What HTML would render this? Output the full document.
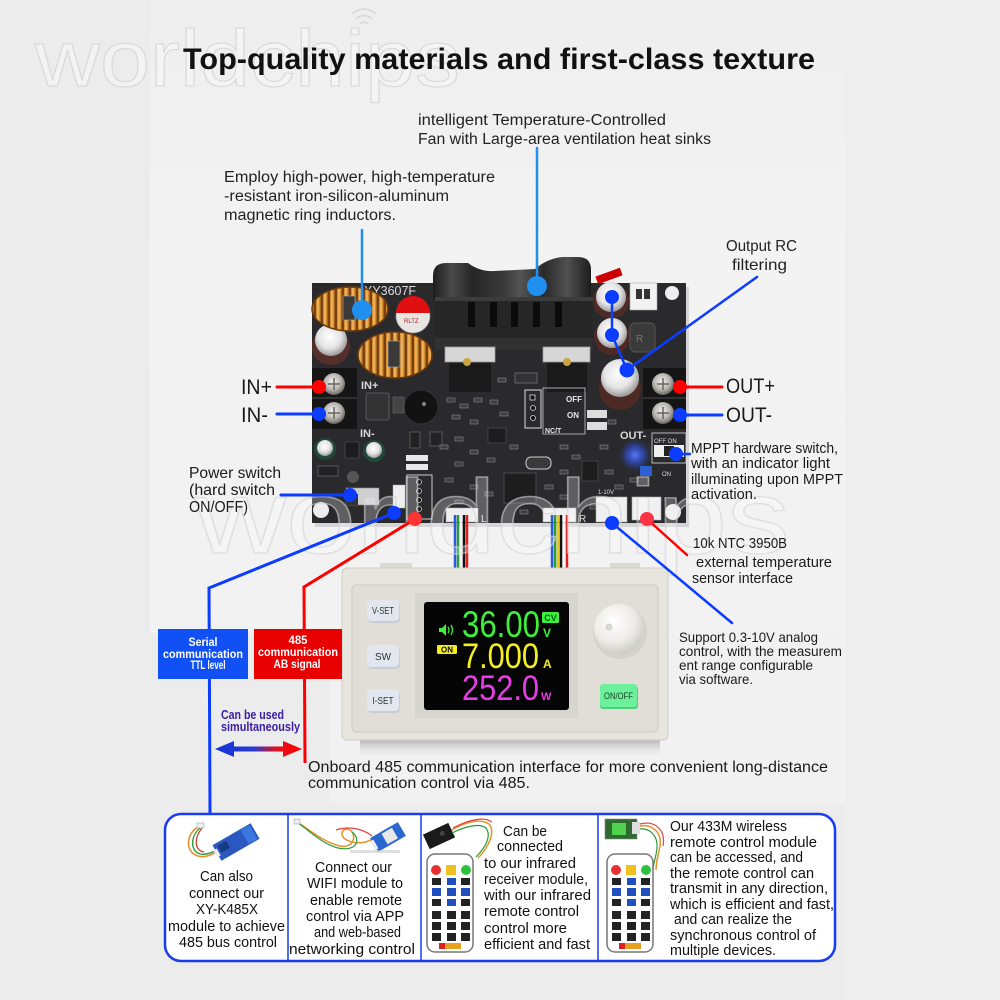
<!DOCTYPE html>
<html><head><meta charset="utf-8">
<style>
html,body{margin:0;padding:0;background:#ececec;}
svg{display:block}
text{font-family:"Liberation Sans",sans-serif}
</style></head><body>
<svg width="1000" height="1000" viewBox="0 0 1000 1000" xmlns="http://www.w3.org/2000/svg">
<defs>
 <linearGradient id="bgc" x1="0" y1="0" x2="0" y2="1">
  <stop offset="0" stop-color="#eeeeee"/><stop offset="0.4" stop-color="#f3f3f3"/><stop offset="1" stop-color="#f2f2f2"/>
 </linearGradient>
 <pattern id="coil" width="7" height="10" patternUnits="userSpaceOnUse">
  <rect width="7" height="10" fill="#7a400e"/>
  <rect x="1" width="4.5" height="10" fill="#d48d30"/>
  <rect x="2.3" width="1.4" height="10" fill="#f3c06a"/>
 </pattern>
 <radialGradient id="silver" cx="0.45" cy="0.4" r="0.6">
  <stop offset="0" stop-color="#ffffff"/><stop offset="0.6" stop-color="#e4e4e4"/><stop offset="1" stop-color="#9a9a9a"/>
 </radialGradient>
 <radialGradient id="screw" cx="0.45" cy="0.4" r="0.6">
  <stop offset="0" stop-color="#f2f2f2"/><stop offset="0.6" stop-color="#b9b6b0"/><stop offset="1" stop-color="#6a6660"/>
 </radialGradient>
 <linearGradient id="fanG" x1="0" y1="0" x2="1" y2="0">
  <stop offset="0" stop-color="#1c1c1c"/><stop offset="0.12" stop-color="#4a4a4a"/><stop offset="0.25" stop-color="#262626"/>
  <stop offset="0.45" stop-color="#3a3a3a"/><stop offset="0.55" stop-color="#555"/><stop offset="0.7" stop-color="#2a2a2a"/>
  <stop offset="0.85" stop-color="#505050"/><stop offset="1" stop-color="#1c1c1c"/>
 </linearGradient>
 <radialGradient id="glow" cx="0.5" cy="0.5" r="0.5">
  <stop offset="0" stop-color="#5a7dff" stop-opacity="0.95"/><stop offset="0.5" stop-color="#3050e0" stop-opacity="0.6"/><stop offset="1" stop-color="#2a2a2c" stop-opacity="0"/>
 </radialGradient>
 <radialGradient id="knob" cx="0.4" cy="0.35" r="0.7">
  <stop offset="0" stop-color="#ffffff"/><stop offset="0.6" stop-color="#ecebe6"/><stop offset="1" stop-color="#c9c7c0"/>
 </radialGradient>
 <linearGradient id="shadow" x1="0" y1="0" x2="0" y2="1">
  <stop offset="0" stop-color="#7a7a7a" stop-opacity="0.6"/><stop offset="1" stop-color="#cfcfcf" stop-opacity="0"/>
 </linearGradient>
 <linearGradient id="arrowG" x1="0" y1="0" x2="1" y2="0">
  <stop offset="0" stop-color="#1435d8"/><stop offset="0.45" stop-color="#2a3ad0"/><stop offset="0.7" stop-color="#e01020"/><stop offset="1" stop-color="#f00"/>
 </linearGradient>
</defs>

<!-- background -->
<rect width="1000" height="1000" fill="#ececec"/>
<rect x="150" y="0" width="695" height="633" fill="url(#bgc)"/>
<rect x="330" y="633" width="515" height="170" fill="#f1f1f1"/>
<rect x="845" y="0" width="155" height="1000" fill="#eeeeee"/>

<!-- top watermark -->
<g opacity="0.75">
 <text x="35" y="86" font-size="80" textLength="425" lengthAdjust="spacingAndGlyphs" fill="#f6f6f6" stroke="#d4d4d4" stroke-width="1.2">worldchips</text>
 <path d="M352,14 Q364,4 376,14 M356,19 Q364,12 372,19 M360,24 Q364,20 368,24" fill="none" stroke="#d4d4d4" stroke-width="2"/>
</g>

<!-- title -->
<text x="183" y="69" font-size="30" font-weight="bold" fill="#111" textLength="632" lengthAdjust="spacingAndGlyphs">Top-quality materials and first-class texture</text>

<!-- top annotations -->
<g fill="#222" font-size="15.5">
 <text x="418" y="125" textLength="248" lengthAdjust="spacingAndGlyphs">intelligent Temperature-Controlled</text>
 <text x="418" y="144" textLength="293" lengthAdjust="spacingAndGlyphs">Fan with Large-area ventilation heat sinks</text>
 <text x="224" y="182" textLength="271" lengthAdjust="spacingAndGlyphs">Employ high-power, high-temperature</text>
 <text x="224" y="201" textLength="225" lengthAdjust="spacingAndGlyphs">-resistant iron-silicon-aluminum</text>
 <text x="224" y="220" textLength="172" lengthAdjust="spacingAndGlyphs">magnetic ring inductors.</text>
 <text x="726" y="251" font-size="16" textLength="71" lengthAdjust="spacingAndGlyphs">Output RC</text>
 <text x="732" y="270" font-size="16" textLength="55" lengthAdjust="spacingAndGlyphs">filtering</text>
</g>

<!-- ============ PCB ============ -->
<rect x="315" y="287" width="374" height="240" fill="#000" opacity="0.12"/>
<rect x="312" y="283" width="374" height="240" fill="#2a2a2d"/>
<text x="364" y="295" font-size="13" fill="#dcdcdc" textLength="52" lengthAdjust="spacingAndGlyphs">XY3607F</text>

<!-- fan -->
<path d="M433,300 L433,276 Q433,263 446,263 L468,263 Q480,272 495,271 L535,269 Q548,258 563,257 L578,257 Q591,257 591,270 L591,300 Z" fill="url(#fanG)"/>
<rect x="435" y="297" width="158" height="53" fill="#262627"/>
<rect x="435" y="297" width="158" height="4" fill="#3c3c3c"/>
<g fill="#0b0b0b">
 <rect x="468" y="302" width="7" height="25"/><rect x="490" y="302" width="7" height="25"/>
 <rect x="511" y="302" width="7" height="25"/><rect x="533" y="302" width="7" height="25"/>
 <rect x="555" y="302" width="7" height="25"/>
</g>
<rect x="435" y="338" width="158" height="12" fill="#313132"/>
<rect x="449" y="360" width="42" height="32" fill="#1a1a1a"/>
<rect x="547" y="360" width="40" height="32" fill="#1a1a1a"/>
<rect x="445" y="347" width="50" height="15" fill="#d6d6d6" stroke="#999" stroke-width="0.8"/>
<rect x="543" y="347" width="47" height="15" fill="#d6d6d6" stroke="#999" stroke-width="0.8"/>
<circle cx="467" cy="362" r="4" fill="#c9a640"/>
<circle cx="567" cy="362" r="4" fill="#c9a640"/>

<!-- brown cap left -->
<ellipse cx="331" cy="347" rx="19" ry="18" fill="#55302a"/>
<circle cx="331" cy="340" r="16" fill="url(#silver)"/>
<!-- red cap -->
<circle cx="413" cy="316" r="17" fill="#e8e6e3" stroke="#9a9a9a" stroke-width="0.8"/>
<path d="M396,313 A17,17 0 0 1 430,313 Z" fill="#e01010"/>
<text x="404" y="323" font-size="6" fill="#b02020">RLTZ</text>

<!-- inductors -->
<ellipse cx="350" cy="309" rx="38" ry="22" fill="url(#coil)"/>
<ellipse cx="350" cy="309" rx="38" ry="22" fill="none" stroke="#6b3a0c" stroke-width="1.5"/>
<rect x="343" y="296" width="12" height="24" fill="#3a3a3a" stroke="#aaa" stroke-width="0.6"/>
<ellipse cx="395" cy="355" rx="37" ry="23" fill="url(#coil)"/>
<ellipse cx="395" cy="355" rx="37" ry="23" fill="none" stroke="#6b3a0c" stroke-width="1.5"/>
<rect x="388" y="341" width="12" height="26" fill="#3a3a3a" stroke="#aaa" stroke-width="0.6"/>

<!-- right caps -->
<rect x="596" y="272" width="26" height="8" fill="#c00" transform="rotate(-20 609 276)"/>
<rect x="630" y="283" width="27" height="27" fill="#f2f2f2" stroke="#aaa" stroke-width="0.6"/>
<rect x="636" y="289" width="6" height="10" fill="#333"/><rect x="644" y="289" width="6" height="10" fill="#333"/>
<ellipse cx="611" cy="301" rx="18" ry="18" fill="#4e2a24"/>
<circle cx="611" cy="297" r="15" fill="url(#silver)"/>
<ellipse cx="612" cy="337" rx="18" ry="18" fill="#4e2a24"/>
<circle cx="612" cy="333" r="15" fill="url(#silver)"/>
<rect x="630" y="323" width="25" height="29" rx="5" fill="#3a3a3b" stroke="#555"/>
<text x="636" y="342" font-size="10" fill="#777">R</text>
<ellipse cx="620" cy="388" rx="21" ry="22" fill="#4e2a24"/>
<circle cx="620" cy="378" r="19" fill="url(#silver)"/>
<circle cx="672" cy="293" r="7" fill="#eeeeee"/>

<!-- terminals -->
<g>
 <rect x="312" y="368" width="45" height="30" fill="#151515"/>
 <rect x="312" y="398" width="45" height="31" fill="#151515"/>
 <line x1="312" y1="398" x2="357" y2="398" stroke="#3a3a3a" stroke-width="1.5"/>
 <circle cx="334" cy="384" r="11" fill="url(#screw)"/>
 <circle cx="334" cy="413" r="11" fill="url(#screw)"/>
 <rect x="643" y="368" width="43" height="30" fill="#151515"/>
 <rect x="643" y="398" width="43" height="31" fill="#151515"/>
 <line x1="643" y1="398" x2="686" y2="398" stroke="#3a3a3a" stroke-width="1.5"/>
 <circle cx="663" cy="384" r="11" fill="url(#screw)"/>
 <circle cx="663" cy="413" r="11" fill="url(#screw)"/>
 <path d="M328,384 h12 M334,378 v12 M328,413 h12 M334,407 v12 M657,384 h12 M663,378 v12 M657,413 h12 M663,407 v12" stroke="#6a665f" stroke-width="1.5"/>
</g>
<g fill="#d8d8d8" font-size="11" font-weight="bold">
 <text x="361" y="389">IN+</text>
 <text x="360" y="437">IN-</text>
 <text x="620" y="439">OUT-</text>
</g>

<!-- board components -->
<circle cx="421" cy="407" r="17" fill="#121212" stroke="#333"/>
<circle cx="424" cy="404" r="2" fill="#888"/>
<rect x="366" y="393" width="23" height="27" rx="2" fill="#333" stroke="#666" stroke-width="0.8"/>
<rect x="393" y="397" width="11" height="16" fill="#444" stroke="#666" stroke-width="0.6"/>
<circle cx="325" cy="449" r="11" fill="#1f4a3a"/><circle cx="325" cy="448" r="8" fill="url(#silver)"/>
<circle cx="374" cy="451" r="11" fill="#1f4a3a"/><circle cx="374" cy="450" r="8" fill="url(#silver)"/>
<rect x="345" y="442" width="14" height="16" fill="#1c1c1c" stroke="#555" stroke-width="0.6"/>
<rect x="318" y="466" width="20" height="10" fill="#222" stroke="#777" stroke-width="0.6"/>
<circle cx="353" cy="477" r="6" fill="#555"/>
<rect x="346" y="488" width="33" height="17" fill="#cfcfcf" stroke="#888" stroke-width="0.6"/>
<rect x="346" y="494" width="12" height="11" fill="#333"/>
<rect x="393" y="485" width="12" height="23" fill="#eee" stroke="#aaa" stroke-width="0.5"/>
<rect x="407" y="475" width="25" height="44" fill="none" stroke="#ccc" stroke-width="1"/>
<g fill="#111" stroke="#ccc" stroke-width="0.8">
 <circle cx="419" cy="482" r="2.5"/><circle cx="419" cy="491" r="2.5"/><circle cx="419" cy="500" r="2.5"/><circle cx="419" cy="509" r="2.5"/>
</g>
<rect x="406" y="455" width="22" height="6" fill="#e8e8e8"/><rect x="406" y="464" width="22" height="6" fill="#e8e8e8"/>
<rect x="410" y="432" width="10" height="16" fill="#222" stroke="#777" stroke-width="0.6"/>
<rect x="430" y="432" width="12" height="14" fill="#222" stroke="#777" stroke-width="0.6"/>
<rect x="504" y="473" width="32" height="30" fill="#1d1d1d" stroke="#555" stroke-width="0.8"/>
<rect x="526" y="457" width="25" height="12" rx="5" fill="#3a3a3a" stroke="#ccc" stroke-width="1"/>
<rect x="488" y="428" width="18" height="15" fill="#1d1d1d" stroke="#555" stroke-width="0.6"/>
<rect x="582" y="461" width="16" height="20" fill="#1d1d1d" stroke="#555" stroke-width="0.6"/>
<rect x="525" y="390" width="16" height="38" fill="none" stroke="#ddd" stroke-width="1"/>
<g fill="#111" stroke="#ddd" stroke-width="0.8"><rect x="530" y="395" width="5" height="5"/><circle cx="533" cy="408" r="2.5"/><circle cx="533" cy="418" r="2.5"/></g>
<rect x="543" y="388" width="42" height="46" fill="none" stroke="#ccc" stroke-width="0.8"/>
<g fill="#e6e6e6" font-size="8" font-weight="bold">
 <text x="566" y="402">OFF</text><text x="567" y="418">ON</text><text x="545" y="433" font-size="7">NC/T</text>
</g>
<rect x="587" y="410" width="20" height="8" fill="#ddd"/><rect x="587" y="422" width="20" height="8" fill="#ddd"/>
<rect x="515" y="373" width="22" height="10" fill="#333" stroke="#888" stroke-width="0.6"/>
<circle cx="635" cy="455" r="18" fill="url(#glow)"/>
<rect x="652" y="433" width="34" height="30" fill="none" stroke="#ddd" stroke-width="0.8"/>
<rect x="654" y="445" width="30" height="12" fill="#eee"/>
<rect x="664" y="446" width="10" height="10" fill="#222"/>
<text x="654" y="443" font-size="6" fill="#ddd">OFF ON</text>
<rect x="640" y="466" width="12" height="10" fill="#2b60d0"/>
<text x="662" y="476" font-size="6" fill="#ddd">ON</text>
<g fill="#3e3e40" stroke="#9a9a9a" stroke-width="0.5">
 <rect x="447" y="398" width="8" height="4"/><rect x="460" y="404" width="8" height="4"/><rect x="474" y="398" width="8" height="4"/>
 <rect x="452" y="415" width="8" height="4"/><rect x="470" y="420" width="8" height="4"/><rect x="490" y="400" width="8" height="4"/>
 <rect x="500" y="412" width="8" height="4"/><rect x="455" y="437" width="8" height="4"/><rect x="470" y="450" width="8" height="4"/>
 <rect x="487" y="458" width="8" height="4"/><rect x="455" y="462" width="8" height="4"/><rect x="445" y="478" width="8" height="4"/>
 <rect x="470" y="485" width="8" height="4"/><rect x="485" y="492" width="8" height="4"/><rect x="560" y="445" width="8" height="4"/>
 <rect x="572" y="455" width="8" height="4"/><rect x="560" y="470" width="8" height="4"/><rect x="545" y="485" width="8" height="4"/>
 <rect x="560" y="495" width="8" height="4"/><rect x="605" y="470" width="8" height="4"/><rect x="615" y="485" width="8" height="4"/>
 <rect x="600" y="445" width="8" height="4"/><rect x="440" y="445" width="8" height="4"/><rect x="510" y="445" width="8" height="4"/>
 <rect x="498" y="378" width="8" height="4"/><rect x="608" y="420" width="8" height="4"/><rect x="630" y="478" width="8" height="4"/>
 <rect x="455" y="500" width="8" height="4"/><rect x="520" y="510" width="8" height="4"/><rect x="590" y="505" width="6" height="4"/>
</g>
<!-- bottom connectors -->
<rect x="446" y="508" width="32" height="14" fill="#efefef" stroke="#aaa" stroke-width="0.6"/>
<rect x="543" y="508" width="33" height="14" fill="#efefef" stroke="#aaa" stroke-width="0.6"/>
<text x="481" y="522" font-size="10" fill="#ddd">L</text>
<text x="579" y="522" font-size="10" fill="#ddd">R</text>
<rect x="596" y="497" width="31" height="25" fill="#f0f0f0" stroke="#aaa" stroke-width="0.6"/>
<rect x="632" y="497" width="29" height="23" fill="#f0f0f0" stroke="#aaa" stroke-width="0.6"/>
<text x="598" y="494" font-size="6" fill="#ddd">1-10V</text>
<circle cx="321" cy="510" r="8" fill="#ededed"/>
<circle cx="673" cy="512" r="8" fill="#ededed"/>

<!-- ribbon wires -->
<g stroke-width="2.5">
 <line x1="455" y1="515" x2="455" y2="570" stroke="#2a5ae0"/>
 <line x1="458" y1="515" x2="458" y2="570" stroke="#2a9a3a"/>
 <line x1="461" y1="515" x2="461" y2="570" stroke="#f4f4f4"/>
 <line x1="464" y1="515" x2="464" y2="570" stroke="#111"/>
 <line x1="467" y1="515" x2="467" y2="570" stroke="#e02020"/>
 <line x1="552" y1="515" x2="552" y2="570" stroke="#2a5ae0"/>
 <line x1="555" y1="515" x2="555" y2="570" stroke="#2a9a3a"/>
 <line x1="558" y1="515" x2="558" y2="570" stroke="#e8c820"/>
 <line x1="561" y1="515" x2="561" y2="570" stroke="#111"/>
 <line x1="564" y1="515" x2="564" y2="570" stroke="#f4f4f4"/>
 <line x1="567" y1="515" x2="567" y2="570" stroke="#e02020"/>
</g>

<!-- middle watermark -->
<text x="195" y="553" font-size="105" textLength="595" lengthAdjust="spacingAndGlyphs" fill="#ffffff" fill-opacity="0.25" stroke="#d4d4d4" stroke-opacity="0.6" stroke-width="1.4">worldchips</text>

<!-- ============ display ============ -->
<rect x="360" y="738" width="300" height="18" fill="url(#shadow)"/>
<rect x="380" y="563" width="32" height="7" fill="#dcdad2"/>
<rect x="610" y="563" width="30" height="7" fill="#dcdad2"/>
<rect x="342" y="568" width="326" height="172" rx="5" fill="#e7e5de" stroke="#cfcdc5" stroke-width="1"/>
<rect x="352" y="585" width="306" height="147" rx="4" fill="#e0ded6" stroke="#cbc9c1" stroke-width="1"/>
<path d="M415,593 L578,593 L578,718 L415,718 Z" fill="#d7d5cd"/>
<rect x="424" y="602" width="145" height="108" rx="3" fill="#050505"/>
<!-- buttons -->
<g>
 <rect x="368" y="602" width="32" height="21" rx="4" fill="#c8ccd4"/>
 <rect x="367" y="600" width="32" height="21" rx="4" fill="#e2e6ee"/>
 <rect x="368" y="647" width="32" height="22" rx="4" fill="#c8ccd4"/>
 <rect x="367" y="645" width="32" height="22" rx="4" fill="#e2e6ee"/>
 <rect x="368" y="691" width="32" height="22" rx="4" fill="#c8ccd4"/>
 <rect x="367" y="689" width="32" height="22" rx="4" fill="#e2e6ee"/>
 <g font-size="10" fill="#333" text-anchor="middle">
  <text x="383" y="614" textLength="22" lengthAdjust="spacingAndGlyphs">V-SET</text>
  <text x="383" y="660">SW</text>
  <text x="383" y="704" textLength="21" lengthAdjust="spacingAndGlyphs">I-SET</text>
 </g>
</g>
<circle cx="620" cy="632" r="27" fill="#d4d2ca"/>
<circle cx="619" cy="629" r="25" fill="url(#knob)"/>
<circle cx="609" cy="627" r="3" fill="#dddbd4" stroke="#c2c0b8" stroke-width="0.6"/>
<rect x="600" y="686" width="38" height="23" rx="3" fill="#4cd07a"/>
<rect x="600" y="684" width="37" height="23" rx="3" fill="#6cf09a"/>
<text x="618.5" y="699" font-size="9" fill="#1a3a22" text-anchor="middle" textLength="29" lengthAdjust="spacingAndGlyphs">ON/OFF</text>
<!-- lcd -->
<g font-family="'DejaVu Sans Mono','Liberation Mono',monospace">
 <text x="462" y="637" font-size="37" fill="#3cf03c" textLength="78" lengthAdjust="spacingAndGlyphs">36.00</text>
 <text x="462" y="668" font-size="35" fill="#f4f020" textLength="77" lengthAdjust="spacingAndGlyphs">7.000</text>
 <text x="462" y="700" font-size="35" fill="#e83ce8" textLength="77" lengthAdjust="spacingAndGlyphs">252.0</text>
</g>
<rect x="542" y="612" width="17" height="11" rx="1.5" fill="#3cf03c"/>
<text x="550.5" y="621" font-size="9" font-weight="bold" fill="#061" text-anchor="middle">CV</text>
<text x="543" y="637" font-size="12" font-weight="bold" fill="#3cf03c">V</text>
<text x="543" y="668" font-size="12" font-weight="bold" fill="#f4f020">A</text>
<text x="541" y="700" font-size="11" font-weight="bold" fill="#e83ce8">W</text>
<path d="M439,628 h3 l4,-4 v12 l-4,-4 h-3 Z" fill="#3cf03c"/>
<path d="M448,627 q2,3 0,6 M451,625 q3,5 0,10" stroke="#3cf03c" stroke-width="1.3" fill="none"/>
<rect x="437" y="645" width="20" height="9" rx="1.5" fill="#f4f020"/>
<text x="447" y="652.5" font-size="8" font-weight="bold" fill="#111" text-anchor="middle">ON</text>

<!-- ============ connectors/leader lines ============ -->
<g stroke-linecap="round">
 <line x1="537" y1="148" x2="537" y2="286" stroke="#1f8ff0" stroke-width="2.5"/>
 <circle cx="537" cy="286" r="10" fill="#1f8ff0"/>
 <line x1="362" y1="230" x2="362" y2="310" stroke="#1f8ff0" stroke-width="2.5"/>
 <circle cx="362" cy="310" r="10" fill="#1f8ff0"/>
 <polyline points="612,297 612,335 627,370" fill="none" stroke="#0b3cff" stroke-width="2.5"/>
 <line x1="757" y1="277" x2="627" y2="370" stroke="#0b3cff" stroke-width="2.5"/>
 <circle cx="612" cy="297" r="7" fill="#0b3cff"/>
 <circle cx="612" cy="335" r="7" fill="#0b3cff"/>
 <circle cx="627" cy="370" r="7.5" fill="#0b3cff"/>
 <line x1="277" y1="387" x2="319" y2="387" stroke="#f00" stroke-width="3"/>
 <circle cx="319" cy="387" r="7" fill="#f00"/>
 <line x1="277" y1="414" x2="319" y2="414" stroke="#0b3cff" stroke-width="3"/>
 <circle cx="319" cy="414" r="7" fill="#0b3cff"/>
 <line x1="680" y1="387" x2="722" y2="387" stroke="#f00" stroke-width="3"/>
 <circle cx="680" cy="387" r="7" fill="#f00"/>
 <line x1="680" y1="415" x2="722" y2="415" stroke="#0b3cff" stroke-width="3"/>
 <circle cx="680" cy="415" r="7" fill="#0b3cff"/>
 <line x1="676" y1="454" x2="690" y2="454" stroke="#0b3cff" stroke-width="2.5"/>
 <circle cx="676" cy="454" r="7" fill="#0b3cff"/>
 <line x1="281" y1="495" x2="350" y2="495" stroke="#0b3cff" stroke-width="3"/>
 <circle cx="350" cy="495" r="7" fill="#0b3cff"/>
 <polyline points="394,513 209,588 210,813" fill="none" stroke="#0b3cff" stroke-width="3" stroke-linejoin="miter" stroke-linecap="butt"/>
 <circle cx="394" cy="513" r="7" fill="#0b3cff"/>
 <polyline points="415,519 304,587 305,763" fill="none" stroke="#f00" stroke-width="3" stroke-linecap="butt"/>
 <circle cx="415" cy="519" r="7" fill="#f33"/>
 <line x1="647" y1="519" x2="687" y2="555" stroke="#f00" stroke-width="2.5"/>
 <circle cx="647" cy="519" r="7" fill="#f34"/>
 <line x1="612" y1="523" x2="732" y2="623" stroke="#0b3cff" stroke-width="2.5"/>
 <circle cx="612" cy="523" r="7" fill="#0b3cff"/>
</g>

<!-- side labels -->
<g fill="#1a1a1a">
 <text x="241" y="394" font-size="21" textLength="31" lengthAdjust="spacingAndGlyphs">IN+</text>
 <text x="241" y="422" font-size="21" textLength="27" lengthAdjust="spacingAndGlyphs">IN-</text>
 <text x="726" y="393" font-size="21" textLength="49" lengthAdjust="spacingAndGlyphs">OUT+</text>
 <text x="726" y="422" font-size="21" textLength="46" lengthAdjust="spacingAndGlyphs">OUT-</text>
 <g font-size="15">
  <text x="691" y="453" textLength="147" lengthAdjust="spacingAndGlyphs">MPPT hardware switch,</text>
  <text x="691" y="468" textLength="139" lengthAdjust="spacingAndGlyphs">with an indicator light</text>
  <text x="691" y="484" textLength="152" lengthAdjust="spacingAndGlyphs">illuminating upon MPPT</text>
  <text x="691" y="499" textLength="66" lengthAdjust="spacingAndGlyphs">activation.</text>
  <text x="693" y="548" textLength="94" lengthAdjust="spacingAndGlyphs">10k NTC 3950B</text>
  <text x="696" y="567" textLength="136" lengthAdjust="spacingAndGlyphs">external temperature</text>
  <text x="692" y="583" textLength="101" lengthAdjust="spacingAndGlyphs">sensor interface</text>
 </g>
 <g font-size="16">
  <text x="189" y="478" textLength="92" lengthAdjust="spacingAndGlyphs">Power switch</text>
  <text x="189" y="495" textLength="86" lengthAdjust="spacingAndGlyphs">(hard switch</text>
  <text x="189" y="512" textLength="59" lengthAdjust="spacingAndGlyphs">ON/OFF)</text>
 </g>
 <g font-size="14">
  <text x="679" y="642" textLength="139" lengthAdjust="spacingAndGlyphs">Support 0.3-10V analog</text>
  <text x="679" y="656" textLength="163" lengthAdjust="spacingAndGlyphs">control, with the measurem</text>
  <text x="679" y="670" textLength="134" lengthAdjust="spacingAndGlyphs">ent range configurable</text>
  <text x="679" y="684" textLength="74" lengthAdjust="spacingAndGlyphs">via software.</text>
 </g>
 <g font-size="16">
  <text x="308" y="772" textLength="520" lengthAdjust="spacingAndGlyphs">Onboard 485 communication interface for more convenient long-distance</text>
  <text x="308" y="788" textLength="222" lengthAdjust="spacingAndGlyphs">communication control via 485.</text>
 </g>
</g>

<!-- comm boxes -->
<rect x="158" y="629" width="90" height="50" fill="#1150f5"/>
<rect x="254" y="629" width="88" height="50" fill="#e80000"/>
<g fill="#fff" font-size="12" font-weight="bold" text-anchor="middle">
 <text x="203" y="646" textLength="29" lengthAdjust="spacingAndGlyphs">Serial</text>
 <text x="203" y="658" textLength="80" lengthAdjust="spacingAndGlyphs">communication</text>
 <text x="208" y="669" textLength="35" lengthAdjust="spacingAndGlyphs">TTL level</text>
 <text x="298" y="644" textLength="19" lengthAdjust="spacingAndGlyphs">485</text>
 <text x="298" y="656" textLength="80" lengthAdjust="spacingAndGlyphs">communication</text>
 <text x="297" y="668" textLength="47" lengthAdjust="spacingAndGlyphs">AB signal</text>
</g>
<g fill="#3a1ca6" font-size="13" font-weight="bold">
 <text x="221" y="719" textLength="63" lengthAdjust="spacingAndGlyphs">Can be used</text>
 <text x="221" y="731" textLength="79" lengthAdjust="spacingAndGlyphs">simultaneously</text>
</g>
<path d="M215,749 L234,741 L234,746.5 L283,746.5 L283,741 L302,749 L283,757 L283,751.5 L234,751.5 L234,757 Z" fill="url(#arrowG)"/>

<!-- ============ bottom box ============ -->
<rect x="165" y="814" width="670" height="147" rx="16" fill="#ffffff" stroke="#1a3cf0" stroke-width="2.5"/>
<g stroke="#1a3cf0" stroke-width="1.5">
 <line x1="288" y1="815" x2="288" y2="960"/>
 <line x1="421" y1="815" x2="421" y2="960"/>
 <line x1="598" y1="815" x2="598" y2="960"/>
</g>

<!-- cell1 image -->
<path d="M200,826 C186,832 184,852 198,856 C210,859 214,850 222,852" fill="none" stroke="#e8902a" stroke-width="1.6"/>
<path d="M201,827 C190,836 190,851 200,854 C210,856 216,848 222,849" fill="none" stroke="#2a9a3a" stroke-width="1.4"/>
<path d="M202,828 C194,838 194,850 204,852" fill="none" stroke="#d03020" stroke-width="1.2"/>
<rect x="197" y="823" width="7" height="5" fill="#eee" stroke="#999" stroke-width="0.5"/>
<g transform="translate(236,842) rotate(-30)">
 <rect x="-22" y="-9" width="44" height="18" fill="#2a58c0"/>
 <rect x="-18" y="-6" width="10" height="8" fill="#183a80"/>
 <rect x="10" y="-8" width="10" height="16" fill="#3a78e0"/>
 <rect x="-24" y="-4" width="4" height="8" fill="#eee"/>
</g>
<!-- cell2 image -->
<path d="M297,822 C305,826 322,842 340,846 C352,849 358,836 350,830 C342,826 336,838 352,842 C362,844 368,842 374,838" fill="none" stroke="#e8902a" stroke-width="1.5"/>
<path d="M298,823 C306,828 322,844 338,848 C356,852 362,840 352,832" fill="none" stroke="#2a9a3a" stroke-width="1.2"/>
<path d="M336,830 C348,826 362,828 372,836" fill="none" stroke="#e84040" stroke-width="1.2"/>
<rect x="294" y="819" width="6" height="5" fill="#eee" stroke="#999" stroke-width="0.5"/>
<g transform="translate(388,837) rotate(-30)">
 <rect x="-16" y="-8" width="32" height="16" fill="#2a68d0"/>
 <rect x="-4" y="-6" width="12" height="12" fill="#e8e8e8"/>
 <rect x="-18" y="-5" width="4" height="10" fill="#eee"/>
</g>
<rect x="350" y="850" width="50" height="3" fill="#ccc" opacity="0.6"/>
<!-- cell3 image -->
<g transform="translate(439,836) rotate(-25)">
 <rect x="-14" y="-8" width="28" height="16" fill="#1a1a1a"/>
 <circle cx="4" cy="-1" r="2.5" fill="#444"/>
</g>
<path d="M452,830 C465,822 480,818 489,824 C496,832 488,848 478,858" fill="none" stroke="#e8902a" stroke-width="1.5"/>
<path d="M452,833 C466,826 480,823 486,828 C492,836 485,848 476,857" fill="none" stroke="#2a9a3a" stroke-width="1.2"/>
<path d="M453,828 C468,820 484,816 492,822" fill="none" stroke="#e84040" stroke-width="1.2"/>
<!-- cell4 image -->
<rect x="605" y="819" width="32" height="20" fill="#2f6a2f" stroke="#888" stroke-width="0.6"/>
<rect x="612" y="823" width="14" height="12" fill="#5aee5a" opacity="0.8"/>
<rect x="632" y="822" width="8" height="12" fill="#ddd"/>
<path d="M640,826 C652,824 662,832 660,846 C658,856 656,862 656,870" fill="none" stroke="#e8902a" stroke-width="1.5"/>
<path d="M640,829 C650,828 658,836 657,848 C656,858 653,864 653,870" fill="none" stroke="#2a9a3a" stroke-width="1.2"/>
<path d="M640,824 C655,820 666,830 663,846" fill="none" stroke="#e84040" stroke-width="1.2"/>

<!-- remotes -->
<g transform="translate(427,854)">
 <rect x="0" y="0" width="46" height="98" rx="8" fill="#fff" stroke="#777" stroke-width="1.5"/>
 <circle cx="9" cy="16" r="5" fill="#e83030"/><rect x="19" y="11" width="10" height="10" fill="#f0c020"/><circle cx="39" cy="16" r="5" fill="#30c040"/>
 <g fill="#222">
  <rect x="5" y="24" width="9" height="7"/><rect x="34" y="24" width="9" height="7"/>
  <rect x="5" y="45" width="9" height="7"/><rect x="34" y="45" width="9" height="7"/>
  <rect x="5" y="57" width="9" height="8"/><rect x="20" y="57" width="9" height="8"/><rect x="34" y="57" width="9" height="8"/>
  <rect x="5" y="68" width="9" height="8"/><rect x="20" y="68" width="9" height="8"/><rect x="34" y="68" width="9" height="8"/>
  <rect x="5" y="79" width="9" height="8"/><rect x="20" y="79" width="9" height="8"/><rect x="34" y="79" width="9" height="8"/>
 </g>
 <g fill="#2050c0">
  <rect x="20" y="24" width="9" height="7"/><rect x="5" y="34" width="9" height="8"/><rect x="20" y="34" width="9" height="8"/>
  <rect x="34" y="34" width="9" height="8"/><rect x="20" y="45" width="9" height="7"/>
 </g>
 <rect x="12" y="89" width="22" height="6" fill="#e8a020"/><rect x="12" y="89" width="6" height="6" fill="#e02020"/>
</g>
<g transform="translate(607,854)">
 <rect x="0" y="0" width="46" height="98" rx="8" fill="#fff" stroke="#777" stroke-width="1.5"/>
 <circle cx="9" cy="16" r="5" fill="#e83030"/><rect x="19" y="11" width="10" height="10" fill="#f0c020"/><circle cx="39" cy="16" r="5" fill="#30c040"/>
 <g fill="#222">
  <rect x="5" y="24" width="9" height="7"/><rect x="34" y="24" width="9" height="7"/>
  <rect x="5" y="45" width="9" height="7"/><rect x="34" y="45" width="9" height="7"/>
  <rect x="5" y="57" width="9" height="8"/><rect x="20" y="57" width="9" height="8"/><rect x="34" y="57" width="9" height="8"/>
  <rect x="5" y="68" width="9" height="8"/><rect x="20" y="68" width="9" height="8"/><rect x="34" y="68" width="9" height="8"/>
  <rect x="5" y="79" width="9" height="8"/><rect x="20" y="79" width="9" height="8"/><rect x="34" y="79" width="9" height="8"/>
 </g>
 <g fill="#2050c0">
  <rect x="20" y="24" width="9" height="7"/><rect x="5" y="34" width="9" height="8"/><rect x="20" y="34" width="9" height="8"/>
  <rect x="34" y="34" width="9" height="8"/><rect x="20" y="45" width="9" height="7"/>
 </g>
 <rect x="12" y="89" width="22" height="6" fill="#e8a020"/><rect x="12" y="89" width="6" height="6" fill="#e02020"/>
</g>

<!-- bottom texts -->
<g fill="#111" font-size="15">
 <text x="200" y="881" textLength="53" lengthAdjust="spacingAndGlyphs">Can also</text>
 <text x="189" y="898" textLength="75" lengthAdjust="spacingAndGlyphs">connect our</text>
 <text x="196" y="914" textLength="62" lengthAdjust="spacingAndGlyphs">XY-K485X</text>
 <text x="168" y="931" textLength="117" lengthAdjust="spacingAndGlyphs">module to achieve</text>
 <text x="179" y="947" textLength="98" lengthAdjust="spacingAndGlyphs">485 bus control</text>

 <text x="315" y="872" textLength="77" lengthAdjust="spacingAndGlyphs">Connect our</text>
 <text x="307" y="888" textLength="96" lengthAdjust="spacingAndGlyphs">WIFI module to</text>
 <text x="310" y="905" textLength="92" lengthAdjust="spacingAndGlyphs">enable remote</text>
 <text x="306" y="921" textLength="98" lengthAdjust="spacingAndGlyphs">control via APP</text>
 <text x="314" y="937" textLength="87" lengthAdjust="spacingAndGlyphs">and web-based</text>
 <text x="289" y="954" textLength="126" lengthAdjust="spacingAndGlyphs">networking control</text>

 <text x="503" y="836" textLength="44" lengthAdjust="spacingAndGlyphs">Can be</text>
 <text x="497" y="851" textLength="66" lengthAdjust="spacingAndGlyphs">connected</text>
 <text x="484" y="868" textLength="92" lengthAdjust="spacingAndGlyphs">to our infrared</text>
 <text x="484" y="884" textLength="104" lengthAdjust="spacingAndGlyphs">receiver module,</text>
 <text x="484" y="900" textLength="107" lengthAdjust="spacingAndGlyphs">with our infrared</text>
 <text x="484" y="916" textLength="95" lengthAdjust="spacingAndGlyphs">remote control</text>
 <text x="484" y="933" textLength="83" lengthAdjust="spacingAndGlyphs">control more</text>
 <text x="484" y="949" textLength="106" lengthAdjust="spacingAndGlyphs">efficient and fast</text>

 <text x="670" y="831" textLength="117" lengthAdjust="spacingAndGlyphs">Our 433M wireless</text>
 <text x="670" y="847" textLength="147" lengthAdjust="spacingAndGlyphs">remote control module</text>
 <text x="670" y="862" textLength="133" lengthAdjust="spacingAndGlyphs">can be accessed, and</text>
 <text x="670" y="878" textLength="144" lengthAdjust="spacingAndGlyphs">the remote control can</text>
 <text x="670" y="893" textLength="158" lengthAdjust="spacingAndGlyphs">transmit in any direction,</text>
 <text x="670" y="909" textLength="164" lengthAdjust="spacingAndGlyphs">which is efficient and fast,</text>
 <text x="674" y="924" textLength="118" lengthAdjust="spacingAndGlyphs">and can realize the</text>
 <text x="670" y="940" textLength="146" lengthAdjust="spacingAndGlyphs">synchronous control of</text>
 <text x="670" y="955" textLength="106" lengthAdjust="spacingAndGlyphs">multiple devices.</text>
</g>
</svg>
</body></html>
